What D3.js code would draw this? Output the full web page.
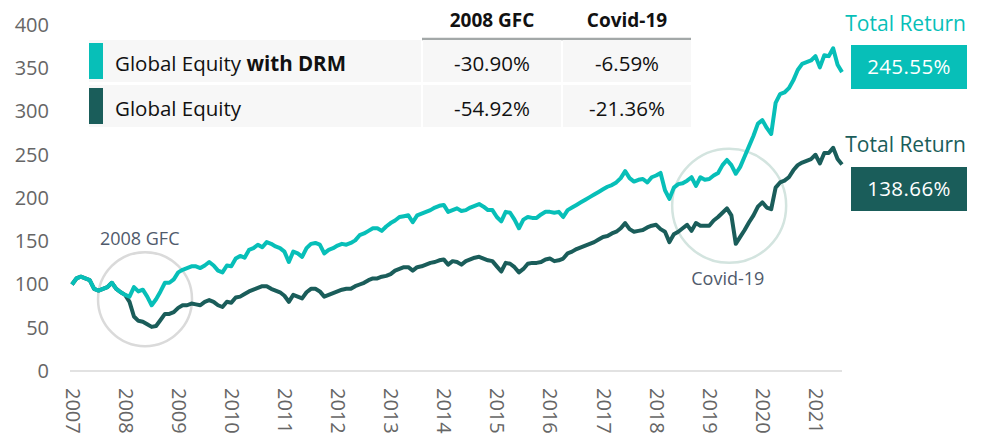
<!DOCTYPE html>
<html>
<head>
<meta charset="utf-8">
<script src="https://d3js.org/d3.v7.min.js"></script>
<style>
  body { margin: 0; background: #fff; font-family: 'Open Sans', sans-serif; }
  svg text { font-family: 'Open Sans', sans-serif; }
</style>
</head>
<body>
<svg id="chart" width="981" height="436"></svg>
<script>
  // year labels sit every 12 monthly points
  const yearLabels = ['2007', '2008', '2009', '2010', '2011', '2012', '2013', '2014',
    '2015', '2016', '2017', '2018', '2019', '2020', '2021'];
  const yTicks = [0, 50, 100, 150, 200, 250, 300, 350, 400];

  // Global Equity with DRM, monthly index level
  const drmValues = [
    100, 107, 109, 107, 105, 95, 93, 95, 97, 102, 95, 91,
    88, 86, 97, 92, 94, 86, 76, 83, 92, 102, 102, 106,
    114, 117, 119, 121, 121, 119, 122, 126, 122, 116, 114, 122,
    121, 130, 133, 131, 140, 142, 146, 143, 149, 147, 144, 142,
    138, 126, 138, 136, 132, 142, 147, 148, 146, 136, 140, 142,
    145, 147, 146, 148, 151, 157, 159, 162, 165, 165, 162, 167,
    171, 174, 178, 179, 180, 172, 180, 182, 184, 186, 189, 191,
    192, 184, 186, 188, 185, 186, 189, 191, 193, 190, 186, 186,
    178, 173, 184, 183, 175, 165, 175, 178, 177, 177, 181, 184,
    184, 183, 184, 178, 186, 189, 192, 195, 198, 201, 204, 207,
    210, 213, 215, 218, 223, 231, 223, 219, 221, 222, 218, 224,
    226, 229, 209, 199, 212, 216, 217, 220, 224, 214, 224, 221,
    222, 226, 229, 238, 244, 238, 228, 236, 248, 260, 272, 286,
    290, 281, 274, 310, 320, 322, 327, 336, 348, 355, 357, 359,
    364, 351, 365, 364, 373, 354, 345.55
  ];

  // Global Equity, monthly index level
  const equityValues = [
    100, 107, 109, 107, 105, 95, 93, 95, 97, 102, 95, 91,
    88, 80, 63, 58, 57, 54, 51, 52, 59, 66, 66, 68,
    73, 76, 76, 78, 77, 76, 80, 82, 80, 76, 74, 80,
    79, 85, 86, 89, 92, 94, 96, 98, 98, 95, 93, 91,
    87, 80, 88, 86, 84, 91, 95, 95, 92, 86, 88, 90,
    92, 94, 95, 95, 98, 100, 102, 105, 107, 107, 109, 110,
    112, 116, 118, 120, 120, 116, 120, 121, 123, 125, 126, 128,
    129, 123, 127, 126, 123, 127, 129, 131, 132, 130, 128, 127,
    121, 115, 125, 124, 120, 114, 118, 124, 125, 125, 126, 129,
    130, 127, 128, 130, 136, 138, 141, 143, 145, 147, 149, 152,
    155, 156, 159, 161, 165, 171, 164, 161, 162, 163, 166, 168,
    169, 164, 161, 149, 158, 161, 165, 169, 162, 171, 168, 168,
    168, 174, 178, 183, 188, 180, 147, 155, 163, 172, 180, 190,
    195, 189, 187, 212, 218, 220, 224, 232, 238, 241, 243, 245,
    250, 240, 252, 252, 258, 245, 238.66
  ];

  const seriesNames = ['Global Equity ', 'Global Equity'];
  const tableHeaders = ['2008 GFC', 'Covid-19'];
  const drmDrawdowns = ['-30.90%', '-6.59%'];
  const equityDrawdowns = ['-54.92%', '-21.36%'];
  const totalReturns = ['245.55%', '138.66%'];

  const teal = '#07bfb8';
  const dark = '#1a5d5a';

  const svg = d3.select('#chart');
  const x = d3.scaleLinear().domain([0, drmValues.length - 1]).range([72, 842]);
  const y = d3.scaleLinear().domain([0, 400]).range([371, 25]);

  // baseline
  svg.append('line')
    .attr('x1', 70).attr('x2', 842)
    .attr('y1', y(0)).attr('y2', y(0))
    .attr('stroke', '#d9d9d9').attr('stroke-width', 1.5);

  // y axis
  const yAxis = svg.append('g')
    .attr('transform', 'translate(49,0)')
    .call(d3.axisLeft(y).tickValues(yTicks).tickSize(0).tickPadding(0));
  yAxis.select('.domain').remove();
  yAxis.selectAll('text')
    .style('font-size', '20px').attr('fill', '#666');

  // x axis, rotated year labels
  const xAxis = svg.append('g')
    .attr('transform', `translate(0,${y(0)})`)
    .call(d3.axisBottom(x)
      .tickValues(yearLabels.map((d, i) => i * 12))
      .tickFormat((d, i) => yearLabels[i])
      .tickSize(0));
  xAxis.select('.domain').remove();
  xAxis.selectAll('text')
    .attr('transform', 'rotate(90)')
    .attr('x', 17).attr('y', 0).attr('dy', '0.35em')
    .style('text-anchor', 'start')
    .style('font-size', '20px').attr('fill', '#666');

  // highlight circles
  svg.append('circle')
    .attr('cx', x(16.5)).attr('cy', y(83)).attr('r', 47)
    .attr('fill', 'none').attr('stroke', '#dadada').attr('stroke-width', 2.5);
  svg.append('circle')
    .attr('cx', x(148.5)).attr('cy', y(191)).attr('r', 57)
    .attr('fill', 'none').attr('stroke', '#d3e4df').attr('stroke-width', 2.5);

  svg.append('text')
    .attr('x', x(15.3)).attr('y', y(146))
    .attr('text-anchor', 'middle')
    .style('font-size', '18px').attr('fill', '#505a6c')
    .text('2008 GFC');
  svg.append('text')
    .attr('x', x(148.2)).attr('y', y(100))
    .attr('text-anchor', 'middle')
    .style('font-size', '18px').attr('fill', '#505a6c')
    .text('Covid-19');

  const line = d3.line()
    .x((d, i) => x(i))
    .y(d => y(d));

  svg.append('path')
    .datum(equityValues)
    .attr('d', line)
    .attr('fill', 'none').attr('stroke', dark)
    .attr('stroke-width', 4).attr('stroke-linejoin', 'round');

  svg.append('path')
    .datum(drmValues)
    .attr('d', line)
    .attr('fill', 'none').attr('stroke', teal)
    .attr('stroke-width', 4).attr('stroke-linejoin', 'round');

  // legend table
  const rows = [
    { color: teal, name: seriesNames[0], bold: 'with DRM', values: drmDrawdowns, top: 40 },
    { color: dark, name: seriesNames[1], bold: '', values: equityDrawdowns, top: 85 }
  ];
  const cols = [[89, 421], [423, 561], [563, 691]];

  tableHeaders.forEach((h, i) => {
    svg.append('text')
      .attr('x', (cols[i + 1][0] + cols[i + 1][1]) / 2).attr('y', 27)
      .attr('text-anchor', 'middle')
      .style('font-size', '19px').style('font-weight', 'bold').attr('fill', '#111')
      .text(h);
  });
  svg.append('line')
    .attr('x1', 422).attr('x2', 691).attr('y1', 39).attr('y2', 39)
    .attr('stroke', '#a3a8a8').attr('stroke-width', 2.5);

  rows.forEach(r => {
    cols.forEach(c => {
      svg.append('rect')
        .attr('x', c[0]).attr('y', r.top)
        .attr('width', c[1] - c[0]).attr('height', 42)
        .attr('fill', '#f7f7f7');
    });
    svg.append('rect')
      .attr('x', 89).attr('y', r.top + 3)
      .attr('width', 14).attr('height', 36)
      .attr('fill', r.color);
    const t = svg.append('text')
      .attr('x', 115).attr('y', r.top + 31)
      .style('font-size', '20.5px').attr('fill', '#111');
    t.append('tspan').text(r.name);
    if (r.bold) t.append('tspan').style('font-weight', 'bold').text(r.bold);
    r.values.forEach((v, i) => {
      svg.append('text')
        .attr('x', (cols[i + 1][0] + cols[i + 1][1]) / 2).attr('y', r.top + 31)
        .attr('text-anchor', 'middle')
        .style('font-size', '20.5px').attr('fill', '#111')
        .text(v);
    });
  });

  // total return boxes
  const boxes = [
    { color: teal, label: 31, top: 45, value: totalReturns[0] },
    { color: dark, label: 152, top: 167, value: totalReturns[1] }
  ];
  boxes.forEach(b => {
    svg.append('text')
      .attr('x', 966).attr('y', b.label)
      .attr('text-anchor', 'end')
      .style('font-size', '21px').attr('fill', b.color)
      .text('Total Return');
    svg.append('rect')
      .attr('x', 851).attr('y', b.top)
      .attr('width', 116).attr('height', 44)
      .attr('fill', b.color);
    svg.append('text')
      .attr('x', 909).attr('y', b.top + 22).attr('dy', '0.35em')
      .attr('text-anchor', 'middle')
      .style('font-size', '20.5px').style('letter-spacing', '0.4px').attr('fill', '#fff')
      .text(b.value);
  });
</script>
</body>
</html>
